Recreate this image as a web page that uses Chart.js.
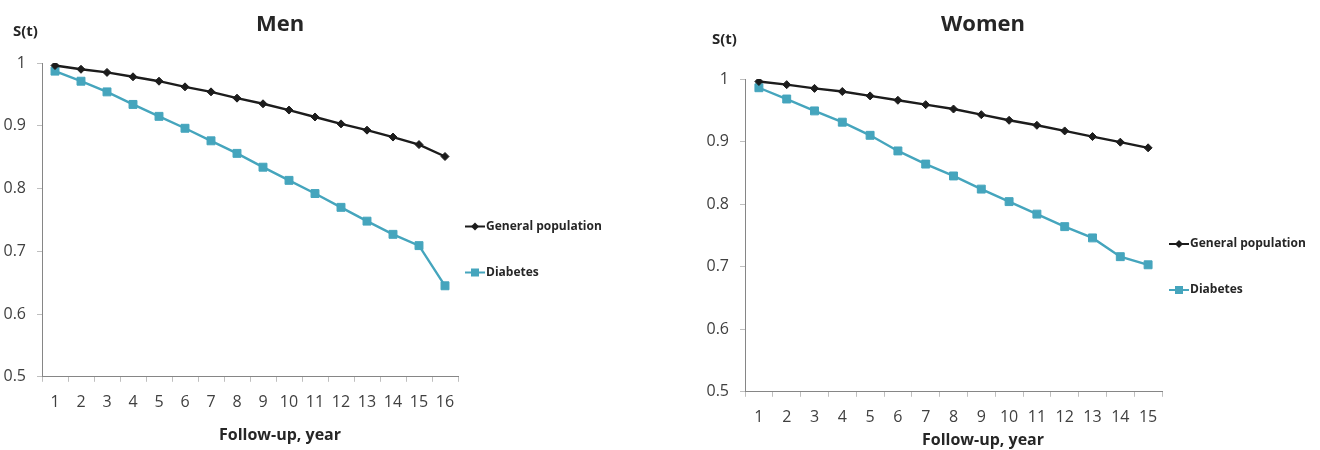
<!DOCTYPE html>
<html>
<head>
<meta charset="UTF-8" />
<script src="https://cdn.jsdelivr.net/npm/chart.js@4"></script>
<style>
  body {
    margin: 0;
    padding: 0;
    background: #fff;
    width: 1320px;
    height: 450px;
    overflow: hidden;
    position: relative;
  }
  .panel {
    position: absolute;
    top: 0;
    width: 640px;
    height: 450px;
  }
</style>
</head>
<body>
<div class="panel" style="left:0px"><canvas id="menChart" width="640" height="450"></canvas></div>
<div class="panel" style="left:680px"><canvas id="womenChart" width="640" height="450"></canvas></div>
<script>
  // follow-up years
  const yearsMen = ['1', '2', '3', '4', '5', '6', '7', '8', '9', '10', '11', '12', '13', '14', '15', '16'];
  const yearsWomen = ['1', '2', '3', '4', '5', '6', '7', '8', '9', '10', '11', '12', '13', '14', '15'];

  // survival S(t)
  const menGeneral = [0.996, 0.990, 0.985, 0.978, 0.971, 0.962, 0.954, 0.944, 0.935, 0.925, 0.914, 0.903, 0.893, 0.882, 0.870, 0.851];
  const menDiabetes = [0.987, 0.971, 0.954, 0.934, 0.915, 0.896, 0.876, 0.856, 0.834, 0.813, 0.792, 0.770, 0.748, 0.727, 0.709, 0.645];
  const womenGeneral = [0.996, 0.991, 0.985, 0.980, 0.973, 0.966, 0.959, 0.952, 0.943, 0.934, 0.926, 0.917, 0.908, 0.899, 0.890];
  const womenDiabetes = [0.986, 0.968, 0.949, 0.931, 0.910, 0.885, 0.864, 0.845, 0.824, 0.804, 0.784, 0.764, 0.746, 0.716, 0.703];

  const seriesNames = ['General population', 'Diabetes'];

  const FONT = "'Open Sans', 'Noto Sans', sans-serif";
  const BLACK = '#1c1c1c';
  const TEAL = '#45a5bd';
  const AXIS = '#868686';

  // S(t) label above the y axis and the legend to the right of the plot
  const sideLabels = {
    id: 'sideLabels',
    afterDraw(chart, args, opts) {
      const ctx = chart.ctx;
      const area = chart.chartArea;
      ctx.save();
      ctx.fillStyle = '#262626';
      ctx.font = 'bold 15px ' + FONT;
      ctx.textAlign = 'left';
      ctx.textBaseline = 'middle';
      ctx.fillText('S(t)', area.left + opts.yLabelDx, area.top + opts.yLabelDy);

      chart.data.datasets.forEach((ds, i) => {
        const x = area.right + 7;
        const y = area.top + opts.legendDy + i * 46;
        ctx.strokeStyle = ds.borderColor;
        ctx.lineWidth = 2;
        ctx.beginPath();
        ctx.moveTo(x, y);
        ctx.lineTo(x + 20, y);
        ctx.stroke();
        ctx.fillStyle = ds.borderColor;
        ctx.beginPath();
        if (ds.pointStyle === 'rectRot') {
          ctx.moveTo(x + 10, y - 4);
          ctx.lineTo(x + 14, y);
          ctx.lineTo(x + 10, y + 4);
          ctx.lineTo(x + 6, y);
          ctx.closePath();
        } else {
          ctx.rect(x + 6, y - 4, 8, 8);
        }
        ctx.fill();
        ctx.fillStyle = '#262626';
        ctx.font = 'bold 12px ' + FONT;
        ctx.fillText(ds.label, x + 21, y);
      });
      ctx.restore();
    }
  };

  function makeChart(id, title, labels, general, diabetes, lay) {
    const ctx = document.getElementById(id).getContext('2d');
    return new Chart(ctx, {
      type: 'line',
      data: {
        labels: labels,
        datasets: [
          {
            label: seriesNames[0],
            data: general,
            borderColor: BLACK,
            backgroundColor: BLACK,
            borderWidth: 2.4,
            pointStyle: 'rectRot',
            pointRadius: 4,
            pointBorderWidth: 1,
            tension: 0,
          },
          {
            label: seriesNames[1],
            data: diabetes,
            borderColor: TEAL,
            backgroundColor: TEAL,
            borderWidth: 2.4,
            pointStyle: 'rect',
            pointRadius: 5.6,
            pointBorderWidth: 1,
            tension: 0,
          },
        ],
      },
      options: {
        responsive: false,
        animation: false,
        devicePixelRatio: 1,
        layout: { padding: { left: 0, right: lay.padRight, top: 0, bottom: 0 } },
        plugins: {
          legend: { display: false },
          tooltip: { enabled: false },
          title: {
            display: true,
            text: title,
            color: '#262626',
            font: { family: FONT, size: 22, weight: 'bold' },
            padding: { top: 12, bottom: lay.titleBottom },
          },
          subtitle: {
            display: true,
            position: 'bottom',
            text: 'Follow-up, year',
            color: '#262626',
            font: { family: FONT, size: 16, weight: 'bold' },
            padding: { top: lay.axisTitleTop, bottom: lay.axisTitleBottom },
          },
          sideLabels: { yLabelDx: lay.yLabelDx, yLabelDy: lay.yLabelDy, legendDy: lay.legendDy },
        },
        scales: {
          x: {
            type: 'category',
            offset: true,
            grid: { display: true, drawOnChartArea: false, tickLength: 5, color: '#bfbfbf', offset: true },
            border: { color: AXIS, width: 1 },
            ticks: { padding: 11, color: '#404040', font: { family: FONT, size: 16 }, maxRotation: 0, autoSkip: false },
            afterFit(scale) { scale.height = 35; },
          },
          y: {
            min: 0.5,
            max: 1,
            grid: { display: true, drawOnChartArea: false, tickLength: 5, color: '#bfbfbf' },
            border: { color: AXIS, width: 1 },
            ticks: {
              stepSize: 0.1,
              padding: 11,
              color: '#404040',
              font: { family: FONT, size: 16 },
              callback: (v) => String(Number(v.toFixed(1))),
            },
            afterFit(scale) { scale.width = lay.yWidth; },
          },
          // empty right-hand strip that keeps room for the legend
          side: {
            type: 'linear',
            position: 'right',
            display: true,
            grid: { display: false },
            border: { display: false },
            ticks: { display: false },
            afterFit(scale) { scale.width = lay.sideWidth; },
          },
        },
      },
      plugins: [sideLabels],
    });
  }

  makeChart('menChart', 'Men', yearsMen, menGeneral, menDiabetes, {
    padRight: 80, sideWidth: 102, yWidth: 42,
    titleBottom: 24.6, axisTitleTop: 14, axisTitleBottom: 5,
    yLabelDx: -29, yLabelDy: -31.5, legendDy: 163.5,
  });

  makeChart('womenChart', 'Women', yearsWomen, womenGeneral, womenDiabetes, {
    padRight: 34, sideWidth: 124, yWidth: 65,
    titleBottom: 40.6, axisTitleTop: 4, axisTitleBottom: 0,
    yLabelDx: -33, yLabelDy: -39, legendDy: 165,
  });
</script>
</body>
</html>
